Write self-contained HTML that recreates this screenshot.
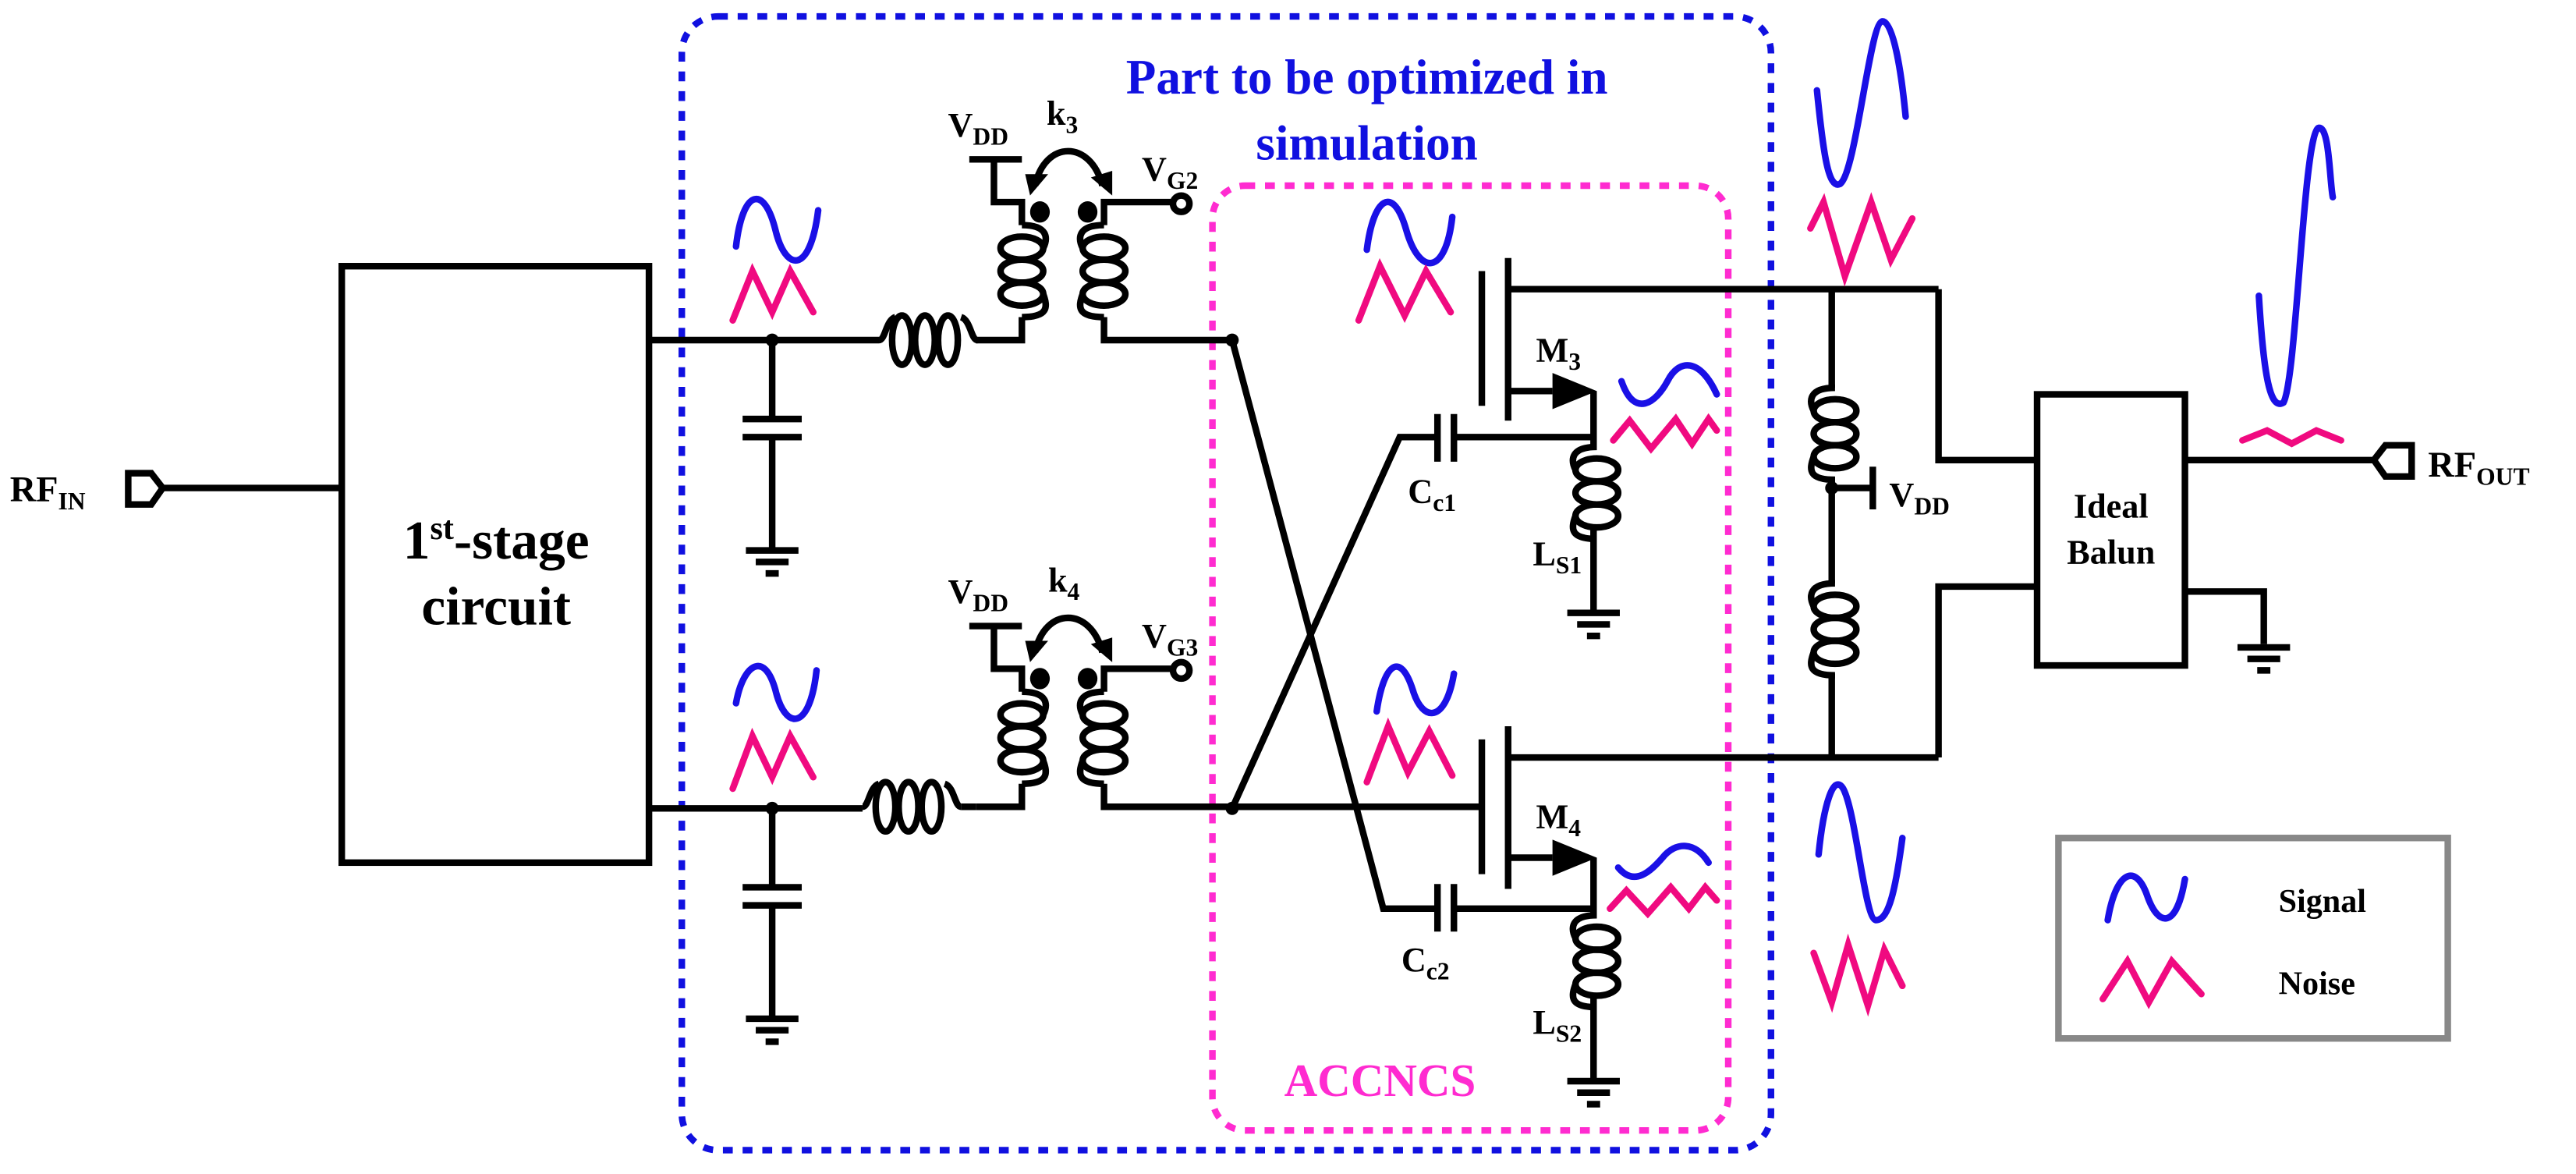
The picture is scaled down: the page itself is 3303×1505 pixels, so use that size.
<!DOCTYPE html>
<html><head><meta charset="utf-8"><style>
html,body{margin:0;padding:0;background:#fff}
svg{display:block}
text{font-family:"Liberation Serif",serif;font-weight:bold}
</style></head><body>
<svg width="3303" height="1505" viewBox="0 0 1568 714.5" xmlns="http://www.w3.org/2000/svg">
<defs>
<g id="vcoil" fill="none" stroke="#000" stroke-width="4">
<ellipse cx="0" cy="0" rx="13" ry="7"/><ellipse cx="0" cy="14" rx="13" ry="7"/><ellipse cx="0" cy="28" rx="13" ry="7"/>
<path d="M0,-14 C16,-14 16,-6 13,0 M13,28 C16,36 16,42 0,42"/>
</g>
<g id="vcoilL" fill="none" stroke="#000" stroke-width="4">
<ellipse cx="0" cy="0" rx="13" ry="7"/><ellipse cx="0" cy="14" rx="13" ry="7"/><ellipse cx="0" cy="28" rx="13" ry="7"/>
<path d="M0,-14 C-16,-14 -16,-6 -13,0 M-13,28 C-16,36 -16,42 0,42"/>
</g>
<g id="hcoil" fill="none" stroke="#000" stroke-width="4">
<ellipse cx="14" cy="0" rx="6" ry="15"/><ellipse cx="28" cy="0" rx="6" ry="15"/><ellipse cx="42" cy="0" rx="6" ry="15"/>
<path d="M0,0 C4,0 4,-12 10,-14 M50,-14 C56,-12 56,0 60,0"/>
</g>
<g id="gnd" stroke="#000" stroke-width="4"><line x1="-16" y1="0" x2="16" y2="0"/><line x1="-10" y1="7" x2="10" y2="7"/><line x1="-4" y1="14" x2="4" y2="14"/></g>
<g id="xf">
<g stroke="#000" stroke-width="4" fill="none">
<path d="M594,207 L622,207 L622,193 M622,137 L622,123 L605,123 L605,97 M590,97 L622,97"/>
<path d="M672,193 L672,207 L750,207 M672,137 L672,123 L714,123"/>
<path d="M630,113 C636,85 664,85 671,113"/>
</g>
<use href="#vcoil" x="622" y="151"/><use href="#vcoilL" x="672" y="151"/>
<ellipse cx="633" cy="129" rx="6" ry="6.5"/><ellipse cx="662" cy="129" rx="6" ry="6.5"/>
<circle cx="719" cy="124" r="5" fill="#fff" stroke="#000" stroke-width="4"/>
<path d="M624,106 L638,106 L627,119 Z"/><path d="M677,104 L677,119 L664,108 Z"/>
</g>
</defs>

<rect x="415" y="10" width="663" height="690" rx="22" fill="none" stroke="#1010e0" stroke-width="4" stroke-dasharray="6,6"/>
<rect x="738" y="113" width="314" height="575" rx="20" fill="none" stroke="#ff2bd0" stroke-width="4" stroke-dasharray="6,6"/>
<text x="832" y="57" font-size="30" fill="#1010e0" text-anchor="middle">Part to be optimized in</text>
<text x="832" y="97" font-size="30" fill="#1010e0" text-anchor="middle">simulation</text>
<text x="840" y="667" font-size="28" fill="#ff2bd0" text-anchor="middle">ACCNCS</text>

<g stroke="#000" stroke-width="4" fill="none">
<path d="M78,288 L92,288 L99,297 L92,307 L78,307 Z"/>
<line x1="99" y1="297" x2="208" y2="297"/>
<rect x="208" y="162" width="187" height="363"/>
<line x1="395" y1="207" x2="535" y2="207"/>
<line x1="470" y1="207" x2="470" y2="255"/><line x1="452" y1="255" x2="488" y2="255"/><line x1="452" y1="266" x2="488" y2="266"/><line x1="470" y1="266" x2="470" y2="335"/>
<line x1="395" y1="492" x2="525" y2="492"/>
<line x1="470" y1="492" x2="470" y2="540"/><line x1="452" y1="540" x2="488" y2="540"/><line x1="452" y1="551" x2="488" y2="551"/><line x1="470" y1="551" x2="470" y2="620"/>
<line x1="585" y1="491" x2="594" y2="491"/>
</g>
<circle cx="470" cy="207" r="4"/><circle cx="470" cy="492" r="4"/>
<use href="#gnd" x="470" y="335"/><use href="#gnd" x="470" y="620"/>
<use href="#hcoil" x="535" y="207"/><use href="#hcoil" x="525" y="491"/>

<use href="#xf"/>
<use href="#xf" y="284"/>
<text x="577" y="83" font-size="21">V<tspan font-size="15" dy="5">DD</tspan></text>
<text x="637" y="76" font-size="21">k<tspan font-size="15" dy="5">3</tspan></text>
<text x="695" y="110" font-size="21">V<tspan font-size="15" dy="5">G2</tspan></text>
<text x="577" y="367" font-size="21">V<tspan font-size="15" dy="5">DD</tspan></text>
<text x="638" y="360" font-size="21">k<tspan font-size="15" dy="5">4</tspan></text>
<text x="695" y="394" font-size="21">V<tspan font-size="15" dy="5">G3</tspan></text>

<g stroke="#000" stroke-width="4" fill="none">
<line x1="750" y1="491" x2="902" y2="491"/>
<path d="M750,207 L842,553 L875,553"/>
<path d="M750,492 L852,266 L875,266"/>
<line x1="902" y1="165" x2="902" y2="247"/>
<line x1="918" y1="157" x2="918" y2="256"/>
<line x1="918" y1="176" x2="1180" y2="176"/>
<line x1="918" y1="238" x2="945" y2="238"/>
<line x1="970" y1="238" x2="970" y2="272"/>
<line x1="875" y1="252" x2="875" y2="281"/><line x1="885" y1="252" x2="885" y2="281"/>
<line x1="885" y1="266" x2="970" y2="266"/>
<line x1="970" y1="322" x2="970" y2="373"/>
<line x1="902" y1="450" x2="902" y2="532"/>
<line x1="918" y1="442" x2="918" y2="541"/>
<line x1="918" y1="461" x2="1180" y2="461"/>
<line x1="918" y1="522" x2="945" y2="522"/>
<line x1="970" y1="522" x2="970" y2="556"/>
<line x1="875" y1="538" x2="875" y2="567"/><line x1="885" y1="538" x2="885" y2="567"/>
<line x1="885" y1="553" x2="970" y2="553"/>
<line x1="970" y1="607" x2="970" y2="658"/>
<path d="M1115,176 L1115,236 M1115,290 L1115,355 M1115,410 L1115,461"/>
<path d="M1180,176 L1180,280 L1240,280 M1180,461 L1180,357 L1240,357"/>
<path d="M1115,297 L1140,297 M1140,284 L1140,310"/>
<rect x="1240" y="240" width="90" height="165"/>
<line x1="1330" y1="280" x2="1445" y2="280"/>
<path d="M1468,271 L1452,271 L1445,280 L1452,290 L1468,290 Z"/>
<path d="M1330,360 L1378,360 L1378,392"/>
</g>
<use href="#gnd" x="970" y="373"/><use href="#gnd" x="970" y="658"/><use href="#gnd" x="1378" y="394"/>
<use href="#vcoilL" x="972" y="286"/><use href="#vcoilL" x="972" y="571"/>
<use href="#vcoilL" x="1117" y="250"/><use href="#vcoilL" x="1117" y="369"/>
<circle cx="1115" cy="297" r="4"/>
<circle cx="750" cy="207" r="4"/><circle cx="750" cy="492" r="4"/>
<path d="M945,227 L972,238 L945,249 Z"/><path d="M945,511 L972,522 L945,533 Z"/>
<text x="935" y="220" font-size="21">M<tspan font-size="15" dy="5">3</tspan></text>
<text x="935" y="504" font-size="21">M<tspan font-size="15" dy="5">4</tspan></text>
<text x="857" y="306" font-size="21">C<tspan font-size="15" dy="5">c1</tspan></text>
<text x="853" y="591" font-size="21">C<tspan font-size="15" dy="5">c2</tspan></text>
<text x="933" y="344" font-size="21">L<tspan font-size="15" dy="5">S1</tspan></text>
<text x="933" y="629" font-size="21">L<tspan font-size="15" dy="5">S2</tspan></text>
<text x="1150" y="308" font-size="21">V<tspan font-size="15" dy="5">DD</tspan></text>
<text x="6" y="305" font-size="22">RF<tspan font-size="15" dy="5">IN</tspan></text>
<text x="1478" y="290" font-size="22">RF<tspan font-size="15" dy="5">OUT</tspan></text>
<text x="302" y="340" font-size="33" text-anchor="middle">1<tspan font-size="20" dy="-12">st</tspan><tspan dy="12">-stage</tspan></text>
<text x="302" y="380" font-size="33" text-anchor="middle">circuit</text>
<text x="1285" y="315" font-size="21" text-anchor="middle">Ideal</text>
<text x="1285" y="343" font-size="21" text-anchor="middle">Balun</text>

<g fill="none" stroke-width="4" stroke-linecap="round" stroke-linejoin="miter">
<g stroke="#1a10e6">
<path d="M448,150 C452,115 465,112 472,140 C478,165 493,168 498,128"/>
<path d="M448,428 C452,405 465,395 472,420 C478,445 493,445 497,408"/>
<path d="M832,152 C836,120 848,112 856,140 C864,168 880,168 884,132"/>
<path d="M838,433 C842,405 852,395 860,420 C866,440 880,440 885,410"/>
<path d="M987,232 C995,255 1008,245 1015,232 C1022,218 1035,218 1045,240"/>
<path d="M985,528 C995,540 1005,530 1012,522 C1020,512 1032,512 1040,525"/>
<path d="M1106,55 C1110,95 1113,115 1120,112 C1130,105 1138,13 1146,13 C1152,13 1157,40 1160,71"/>
<path d="M1107,520 C1110,490 1116,470 1122,480 C1130,495 1135,560 1142,560 C1150,560 1154,540 1158,510"/>
<path d="M1375,180 C1378,230 1382,250 1390,245 C1398,230 1402,85 1411,78 C1418,75 1418,110 1420,120"/>
<path d="M1283,560 C1288,530 1300,525 1307,545 C1314,565 1325,565 1330,535"/>
</g>
<g stroke="#f00a80">
<path d="M446,195 L458,165 L470,190 L481,165 L495,190"/>
<path d="M446,480 L458,448 L470,473 L481,448 L495,473"/>
<path d="M827,195 L840,162 L855,192 L868,165 L883,190"/>
<path d="M832,476 L845,442 L857,470 L870,445 L884,472"/>
<path d="M982,268 L992,256 L1005,273 L1020,255 L1030,270 L1040,255 L1045,262"/>
<path d="M980,553 L990,542 L1003,556 L1017,540 L1028,553 L1038,540 L1045,548"/>
<path d="M1102,139 L1110,123 L1123,168 L1139,123 L1151,158 L1164,133"/>
<path d="M1104,580 L1115,610 L1125,575 L1137,612 L1147,578 L1158,600"/>
<path d="M1365,268 L1380,262 L1395,270 L1410,262 L1425,268"/>
<path d="M1280,608 L1295,585 L1308,610 L1322,585 L1340,605"/>
</g>
</g>

<rect x="1253" y="510" width="237" height="122" fill="none" stroke="#888" stroke-width="4"/>
<text x="1387" y="555" font-size="20">Signal</text>
<text x="1387" y="605" font-size="20">Noise</text>
</svg>
</body></html>
